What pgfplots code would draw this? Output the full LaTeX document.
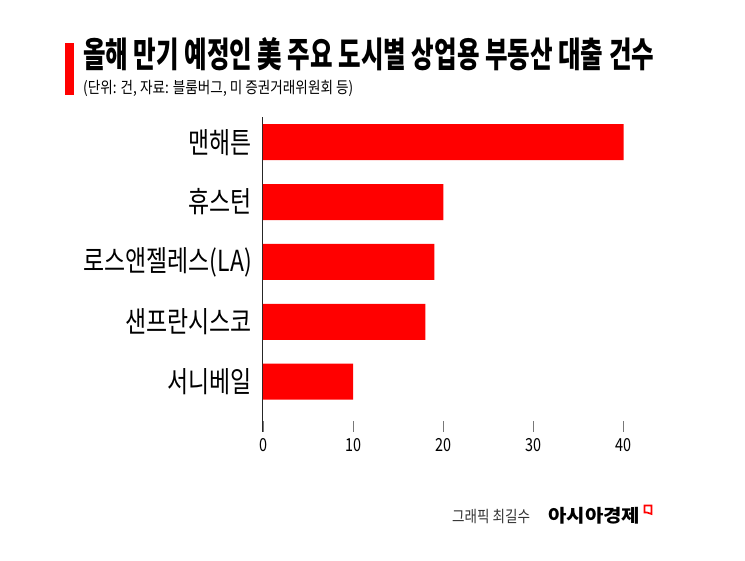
\documentclass[border=0pt]{standalone}
\usepackage{pgfplots}
\pgfplotsset{compat=1.18}
\usepackage{fontspec}
\usepackage{graphicx}
\setmainfont{Noto Sans CJK KR}
\definecolor{barred}{RGB}{255,0,0}
\definecolor{tickgray}{RGB}{120,120,120}
\newcommand{\ylab}[1]{\scalebox{0.79}[1]{\fontsize{29pt}{29pt}\selectfont #1}}
\newcommand{\xlab}[1]{\scalebox{0.8}[1]{\fontsize{18pt}{18pt}\selectfont #1}}
\begin{document}
\begin{tikzpicture}
\useasboundingbox (0,0) rectangle (745pt,561pt);
\fill[white] (0,0) rectangle (745pt,561pt);
% title marker
\fill[barred] (65pt,466pt) rectangle (74pt,518pt);
\node[anchor=base west, inner sep=0pt] at (83pt,493pt)
  {\resizebox{571pt}{\height}{\fontsize{35pt}{35pt}\selectfont\bfseries 올해 만기 예정인 美 주요 도시별 상업용 부동산 대출 건수}};
\node[anchor=base west, inner sep=0pt] at (83pt,467.5pt)
  {\resizebox{270pt}{\height}{\fontsize{16pt}{16pt}\selectfont (단위: 건, 자료: 블룸버그, 미 증권거래위원회 등)}};
\begin{axis}[
  at={(263pt,129pt)}, anchor=south west,
  scale only axis, width=360.7pt, height=315pt,
  xbar, bar width=36pt,
  xmin=0, xmax=40, ymin=-0.84, ymax=4.42,
  axis x line*=bottom, axis y line*=left,
  x axis line style={draw=none},
  y axis line style={draw=black!85, line width=1pt},
  xtick={0,10,20,30,40},
  xticklabels={\xlab{0},\xlab{10},\xlab{20},\xlab{30},\xlab{40}},
  xtick style={draw=tickgray, line width=0.8pt},
  major tick length=11pt, tick align=inside,
  ytick={0,1,2,3,4},
  yticklabels={\ylab{서니베일},\ylab{샌프란시스코},\ylab{로스앤젤레스(LA)},\ylab{휴스턴},\ylab{맨해튼}},
  ytick style={draw=none},
  yticklabel style={anchor=east, inner sep=0pt, xshift=-11pt},
  xticklabel style={anchor=north, inner sep=0pt, yshift=-6pt},
  clip=false,
]
\addplot[fill=barred, draw=none] coordinates {(10,0) (18,1) (19,2) (20,3) (40,4)};
\end{axis}
% footer
\node[anchor=base west, inner sep=0pt, text=black!80] at (452pt,38pt)
  {\resizebox{78pt}{\height}{\fontsize{16pt}{16pt}\selectfont 그래픽 최길수}};
\node[anchor=base west, inner sep=0pt] at (548pt,38pt)
  {\resizebox{92pt}{\height}{\fontsize{18pt}{18pt}\selectfont\bfseries 아시아경제}};
\draw[barred, line width=1.6pt] (644.5pt,55.5pt) -- (651.5pt,55.5pt) -- (651.5pt,47pt) -- (647pt,48.5pt) -- (644.5pt,48.5pt) -- cycle;
\end{tikzpicture}
\end{document}
